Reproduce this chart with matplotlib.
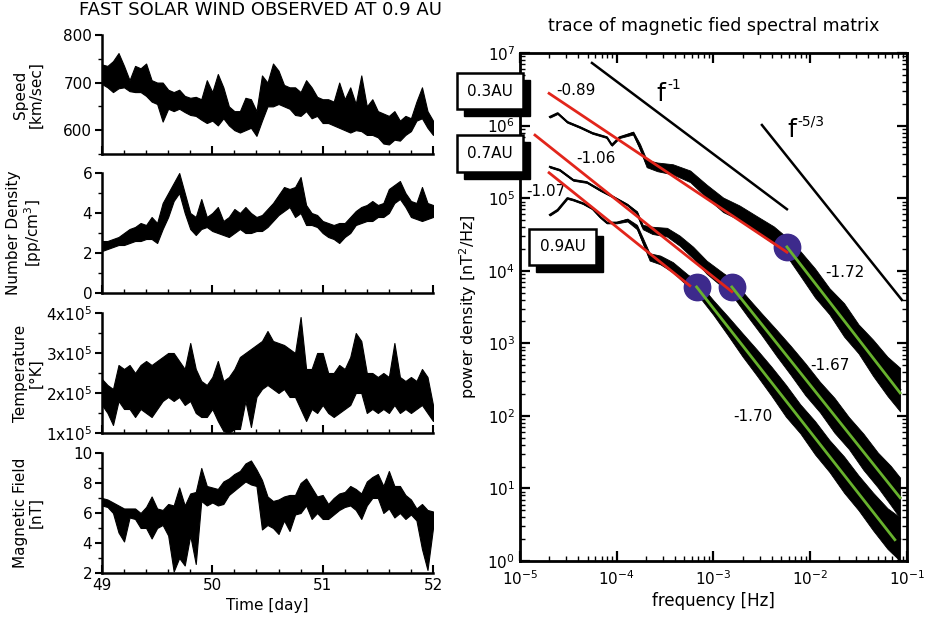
import numpy as np
import matplotlib
matplotlib.use('Agg')
import matplotlib.pyplot as plt
from matplotlib.ticker import MultipleLocator
from matplotlib.patches import Rectangle

plt.rcParams['font.family'] = 'DejaVu Sans'
plt.rcParams['mathtext.default'] = 'regular'
plt.rcParams['axes.unicode_minus'] = False

# ---- solar wind parameters, days 49-52 (low / high reading every 0.05 day)
time = np.linspace(49, 52, 61)

speed_lo = [697, 690, 680, 688, 690, 682, 680, 680, 672, 660,
            655, 618, 645, 640, 645, 638, 632, 630, 622, 615,
            620, 610, 625, 610, 600, 595, 600, 605, 588, 620,
            650, 650, 655, 650, 645, 632, 630, 640, 625, 630,
            615, 615, 610, 605, 600, 595, 600, 598, 590, 590,
            585, 572, 570, 580, 578, 590, 598, 620, 625, 605, 590]
speed_hi = [738, 735, 745, 762, 735, 705, 735, 730, 740, 705,
            700, 700, 685, 680, 685, 672, 668, 670, 665, 705,
            680, 718, 690, 650, 640, 640, 668, 665, 640, 715,
            700, 740, 725, 695, 690, 690, 680, 705, 690, 670,
            665, 665, 660, 700, 665, 690, 655, 715, 650, 665,
            640, 635, 630, 640, 620, 630, 625, 660, 690, 640, 620]

density_lo = [2.1, 2.2, 2.3, 2.4, 2.4, 2.5, 2.6, 2.6, 2.7, 2.7,
              2.5, 3.2, 3.8, 4.6, 5.0, 4.0, 3.2, 2.9, 3.2, 3.3,
              3.1, 3.0, 2.9, 2.8, 3.0, 3.2, 3.0, 3.0, 3.1, 3.1,
              3.3, 3.6, 3.9, 4.1, 4.3, 3.8, 4.0, 3.4, 3.4, 3.3,
              3.0, 2.8, 2.7, 2.5, 2.8, 3.0, 3.4, 3.5, 3.6, 3.6,
              3.8, 3.8, 4.0, 4.5, 4.7, 4.3, 3.8, 3.7, 3.6, 3.7, 3.8]
density_hi = [2.6, 2.6, 2.7, 2.8, 3.0, 3.2, 3.3, 3.5, 3.4, 3.8,
              3.5, 4.5, 5.0, 5.5, 6.0, 5.0, 4.0, 3.8, 4.7, 3.8,
              4.0, 4.3, 3.6, 3.8, 4.2, 4.0, 4.3, 4.0, 3.8, 3.9,
              4.2, 4.5, 4.9, 5.3, 5.2, 5.3, 5.8, 4.4, 4.0, 3.9,
              3.6, 3.5, 3.4, 3.5, 3.5, 3.8, 4.1, 4.3, 4.4, 4.6,
              4.4, 4.5, 5.2, 5.4, 5.6, 5.0, 4.6, 4.5, 5.3, 4.5, 4.4]

# temperature in units of 1e5 K
temp_lo = [1.7, 1.5, 1.2, 1.8, 1.6, 1.6, 1.4, 1.6, 1.5, 1.4,
           1.6, 1.8, 1.9, 1.8, 1.9, 1.7, 1.8, 1.5, 1.4, 1.4,
           1.6, 1.3, 1.05, 1.0, 1.1, 1.1, 1.8, 1.15, 1.9, 2.1,
           2.2, 2.1, 2.0, 2.1, 1.9, 1.9, 1.6, 1.3, 1.6, 1.5,
           1.7, 1.5, 1.4, 1.5, 1.6, 1.7, 2.0, 2.0, 1.5, 1.6,
           1.5, 1.6, 1.5, 1.7, 1.5, 1.6, 1.5, 1.6, 1.7, 1.5, 1.3]
temp_hi = [2.35, 2.2, 2.1, 2.7, 2.6, 2.7, 2.5, 2.7, 2.8, 2.7,
           2.8, 2.9, 3.0, 3.0, 2.8, 2.6, 3.25, 2.6, 2.3, 2.2,
           2.4, 2.8, 2.3, 2.4, 2.6, 2.9, 3.0, 3.1, 3.2, 3.3,
           3.55, 3.3, 3.25, 3.2, 3.1, 3.0, 3.9, 2.6, 2.6, 3.0,
           3.0, 2.5, 2.5, 2.7, 2.6, 2.9, 3.5, 3.3, 2.5, 2.5,
           2.4, 2.5, 2.4, 3.25, 2.4, 2.3, 2.4, 2.3, 2.6, 2.4, 1.7]

field_lo = [6.5, 6.4, 6.0, 4.7, 4.1, 5.7, 5.6, 5.0, 5.0, 4.3,
            5.0, 5.2, 4.5, 2.1, 3.0, 2.5, 4.5, 2.6, 6.8, 6.5,
            6.7, 6.5, 6.6, 7.2, 7.5, 7.8, 8.1, 7.9, 7.8, 4.9,
            5.2, 5.0, 4.6, 5.5, 4.8, 5.9, 6.0, 6.5, 5.6, 6.0,
            5.6, 5.6, 5.9, 6.2, 6.4, 6.5, 6.2, 5.6, 6.5, 7.0,
            7.0, 6.0, 6.3, 5.7, 6.0, 5.6, 5.9, 5.5, 3.6, 2.2, 5.0]
field_hi = [7.0, 6.9, 6.7, 6.5, 6.3, 6.3, 6.3, 6.0, 6.4, 7.1,
            6.3, 6.2, 6.6, 6.5, 7.7, 6.5, 7.3, 7.4, 9.0, 7.8,
            7.7, 7.6, 8.1, 8.3, 8.6, 8.8, 9.3, 9.5, 8.9, 8.2,
            7.1, 6.8, 6.9, 7.1, 7.2, 7.2, 8.0, 8.3, 7.7, 7.1,
            7.2, 6.6, 7.0, 7.3, 7.4, 7.8, 7.6, 7.3, 8.1, 8.4,
            8.6, 7.8, 8.8, 7.8, 7.8, 7.2, 6.9, 6.3, 6.6, 6.2, 6.1]

# ---- trace of magnetic field spectral matrix (power, and band half-width in decades)
freq_03 = [2.04e-5, 2.45e-5, 3.09e-5, 4.17e-5, 5.6e-5, 7.9e-5, 8.9e-5, 1.07e-4,
           1.48e-4, 1.74e-4, 2.04e-4, 2.63e-4, 3.8e-4, 5.75e-4, 8.5e-4, 1.26e-3,
           1.86e-3, 2.8e-3, 4.2e-3, 5.75e-3, 7.9e-3, 1.12e-2, 1.58e-2, 2.24e-2,
           3.16e-2, 4.47e-2, 6.3e-2, 8.5e-2]
power_03 = [1.32e6, 1.48e6, 1.12e6, 9.5e5, 7.9e5, 6.9e5, 5.4e5, 6.9e5,
            7.9e5, 5.1e5, 3.0e5, 2.7e5, 2.5e5, 2.0e5, 1.25e5, 8.1e4,
            6.3e4, 4.4e4, 3.1e4, 2.13e4, 1.26e4, 6.8e3, 3.8e3, 2.1e3,
            1.15e3, 6.3e2, 3.5e2, 2.3e2]
spread_03 = [0.01, 0.01, 0.01, 0.01, 0.01, 0.01, 0.01, 0.01,
             0.02, 0.04, 0.05, 0.06, 0.07, 0.08, 0.09, 0.10,
             0.10, 0.11, 0.12, 0.13, 0.17, 0.20, 0.18, 0.23,
             0.20, 0.25, 0.27, 0.30]

freq_07 = [2.04e-5, 2.57e-5, 3.55e-5, 4.9e-5, 6.76e-5, 9.1e-5, 1.29e-4, 1.62e-4,
           1.86e-4, 2.34e-4, 3.31e-4, 4.47e-4, 6.17e-4, 8.5e-4, 1.26e-3, 1.55e-3,
           2.24e-3, 3.16e-3, 4.47e-3, 6.3e-3, 8.9e-3, 1.26e-2, 1.78e-2, 2.51e-2,
           3.55e-2, 5.0e-2, 6.8e-2, 8.5e-2]
power_07 = [2.7e5, 2.45e5, 1.78e5, 1.66e5, 1.29e5, 1.05e5, 8.1e4, 6.3e4,
            4.0e4, 3.6e4, 3.4e4, 2.6e4, 1.78e4, 1.12e4, 7.4e3, 6.0e3,
            3.2e3, 1.82e3, 1.02e3, 5.8e2, 3.2e2, 1.82e2, 1.02e2, 58,
            32, 18, 11, 7.4]
spread_07 = [0.01, 0.01, 0.01, 0.01, 0.01, 0.01, 0.01, 0.02,
             0.03, 0.05, 0.06, 0.07, 0.08, 0.09, 0.10, 0.11,
             0.13, 0.15, 0.18, 0.20, 0.22, 0.21, 0.24, 0.22,
             0.25, 0.24, 0.27, 0.28]

freq_09 = [2.04e-5, 2.45e-5, 3.09e-5, 3.55e-5, 4.47e-5, 5.6e-5, 6.76e-5, 7.9e-5,
           1.0e-4, 1.29e-4, 1.62e-4, 1.86e-4, 2.19e-4, 2.82e-4, 3.8e-4, 5.4e-4,
           6.7e-4, 1.0e-3, 1.41e-3, 2.0e-3, 2.82e-3, 3.98e-3, 5.6e-3, 7.9e-3,
           1.12e-2, 1.58e-2, 2.24e-2, 3.16e-2, 4.47e-2, 6.3e-2, 8.5e-2]
power_09 = [5.9e4, 6.9e4, 1.0e5, 9.5e4, 8.5e4, 7.2e4, 5.5e4, 4.6e4,
            4.6e4, 5.0e4, 4.0e4, 2.6e4, 1.55e4, 1.41e4, 1.12e4, 7.4e3,
            6.0e3, 3.1e3, 1.74e3, 9.5e2, 5.4e2, 3.0e2, 1.62e2, 91,
            50, 28, 15.5, 8.7, 4.8, 2.8, 2.0]
spread_09 = [0.01, 0.01, 0.01, 0.01, 0.01, 0.01, 0.01, 0.01,
             0.01, 0.02, 0.03, 0.04, 0.05, 0.06, 0.07, 0.08,
             0.09, 0.10, 0.13, 0.16, 0.18, 0.20, 0.22, 0.20,
             0.23, 0.22, 0.25, 0.24, 0.26, 0.28, 0.30]

# spectral break (frequency, power) and fitted slopes below / above the break
break_freq = [5.75e-3, 1.55e-3, 6.7e-4]
break_power = [2.13e4, 5.98e3, 5.98e3]
low_start = [2.0e-5, 1.43e-5, 2.0e-5]
low_start_power = [2.78e6, 7.4e5, 2.24e5]
low_end = [5.75e-3, 1.55e-3, 5.7e-4]
low_slope = [-0.89, -1.06, -1.07]
high_end = [8.5e-2, 8.5e-2, 7.5e-2]
high_slope = [-1.72, -1.67, -1.70]
distances = ['0.3AU', '0.7AU', '0.9AU']

fig = plt.figure(figsize=(9.32, 6.3), dpi=100)

# ---- left column
panels = [
    ([0.1094, 0.7556, 0.3552, 0.1889], speed_lo, speed_hi, 1, (550, 800),
     [600, 700, 800], ['600', '700', '800'], 50, 'Speed\n[km/sec]'),
    ([0.1094, 0.5349, 0.3552, 0.1905], density_lo, density_hi, 1, (0, 6),
     [0, 2, 4, 6], ['0', '2', '4', '6'], 1, 'Number Density\n[pp/cm$^3$]'),
    ([0.1094, 0.3127, 0.3552, 0.1905], temp_lo, temp_hi, 1e5, (1e5, 4e5),
     [1e5, 2e5, 3e5, 4e5], ['1x10$^5$', '2x10$^5$', '3x10$^5$', '4x10$^5$'],
     0.5e5, 'Temperature\n[°K]'),
    ([0.1094, 0.0905, 0.3552, 0.1905], field_lo, field_hi, 1, (2, 10),
     [2, 4, 6, 8, 10], ['2', '4', '6', '8', '10'], 1, 'Magnetic Field\n[nT]'),
]

for i, (rect, lo, hi, scale, ylim, yt, ytl, yminor, ylab) in enumerate(panels):
    ax = fig.add_axes(rect)
    ax.fill_between(time, np.array(lo) * scale, np.array(hi) * scale,
                    color='black', lw=0.8)
    ax.set_xlim(49, 52)
    ax.set_ylim(*ylim)
    ax.set_yticks(yt)
    ax.set_yticklabels(ytl, fontsize=11)
    ax.yaxis.set_minor_locator(MultipleLocator(yminor))
    ax.set_xticks([49, 50, 51, 52])
    ax.xaxis.set_minor_locator(MultipleLocator(0.2))
    for side in ['top', 'right']:
        ax.spines[side].set_visible(False)
    for side in ['left', 'bottom']:
        ax.spines[side].set_linewidth(1.8)
    ax.tick_params(axis='x', which='major', direction='in', length=6, width=1.5)
    ax.tick_params(axis='x', which='minor', direction='in', length=3, width=1)
    ax.tick_params(axis='y', which='major', direction='out', length=5, width=1.5, pad=2)
    ax.tick_params(axis='y', which='minor', direction='out', length=3, width=1)
    ax.set_ylabel(ylab, fontsize=11, linespacing=1.1)
    ax.yaxis.set_label_coords(-0.175, 0.5)
    if i < 3:
        ax.set_xticklabels([])
    else:
        ax.set_xticklabels(['49', '50', '51', '52'], fontsize=11)
        ax.set_xlabel('Time [day]', fontsize=11, labelpad=4)

fig.text(0.279, 0.984, 'FAST SOLAR WIND OBSERVED AT 0.9 AU', ha='center',
         va='center', fontsize=13)

# ---- right: power spectra
ax = fig.add_axes([0.5579, 0.1095, 0.4152, 0.8063])
ax.set_xscale('log')
ax.set_yscale('log')
ax.set_xlim(1e-5, 1e-1)
ax.set_ylim(1, 1e7)

for f, p, s in [(freq_03, power_03, spread_03), (freq_07, power_07, spread_07),
                (freq_09, power_09, spread_09)]:
    f = np.array(f)
    p = np.array(p)
    s = np.array(s)
    ax.plot(f, p, color='black', lw=1.5, zorder=2)
    ax.fill_between(f, p * 10 ** (-s), p * 10 ** s, color='black', lw=0.6, zorder=2)

ax.plot(break_freq, break_power, 'o', ms=19, color='#3d2a8c', zorder=4)
for k in range(3):
    fl = np.array([low_start[k], low_end[k]])
    ax.plot(fl, low_start_power[k] * (fl / low_start[k]) ** low_slope[k],
            color='#e2251b', lw=2, zorder=5)
    fh = np.array([break_freq[k], high_end[k]])
    ax.plot(fh, break_power[k] * (fh / break_freq[k]) ** high_slope[k],
            color='#68b22e', lw=2, zorder=5)

# reference power laws
fr1 = np.array([5.55e-5, 5.75e-3])
ax.plot(fr1, 7.3e6 * (fr1 / 5.55e-5) ** -1.0, color='black', lw=1.8)
fr2 = np.array([3.17e-3, 8.87e-2])
ax.plot(fr2, 1.02e6 * (fr2 / 3.17e-3) ** (-5 / 3), color='black', lw=1.8)
for fx, py, sup in [(2.6e-4, 2.2e6, '-1'), (5.75e-3, 6.9e5, '-5/3')]:
    ax.text(fx, py, 'f', fontsize=18, ha='left', va='baseline')
    ax.annotate(sup, (fx, py), xytext=(7.5, 8.5), textcoords='offset points',
                fontsize=10, ha='left', va='baseline')

# slope annotations
ax.text(3.8e-5, 3.0e6, '%.2f' % low_slope[0], fontsize=11, ha='center', va='center')
ax.text(6.1e-5, 3.5e5, '%.2f' % low_slope[1], fontsize=11, ha='center', va='center')
ax.text(1.87e-5, 1.23e5, '%.2f' % low_slope[2], fontsize=11, ha='center', va='center')
ax.text(2.29e-2, 9.5e3, '%.2f' % high_slope[0], fontsize=11, ha='center', va='center')
ax.text(1.6e-2, 4.9e2, '%.2f' % high_slope[1], fontsize=11, ha='center', va='center')
ax.text(2.57e-3, 98, '%.2f' % high_slope[2], fontsize=11, ha='center', va='center')

for side in ax.spines.values():
    side.set_linewidth(2)
ax.tick_params(which='both', direction='in', top=True, right=True, labelsize=11)
ax.tick_params(which='major', length=7, width=1.6)
ax.tick_params(which='minor', length=3.5, width=1)
ax.tick_params(axis='x', pad=6)
ax.set_title('trace of magnetic fied spectral matrix', fontsize=12.5, pad=16)
ax.set_ylabel('power density [nT$^2$/Hz]', fontsize=11.5, labelpad=6)
ax.set_xlabel('frequency [Hz]', fontsize=12, labelpad=3)

# distance labels with drop shadow
W, H = 932.0, 630.0
boxes = [(457, 73, 66, 36), (457, 135, 66, 37), (529, 229, 67, 36)]
for (x0, y0, w, h), name in zip(boxes, distances):
    fig.add_artist(Rectangle(((x0 + 7) / W, 1 - (y0 + h + 7) / H), w / W, h / H,
                             transform=fig.transFigure, facecolor='black',
                             edgecolor='black', zorder=10))
    fig.add_artist(Rectangle((x0 / W, 1 - (y0 + h) / H), w / W, h / H,
                             transform=fig.transFigure, facecolor='white',
                             edgecolor='black', lw=1.8, zorder=11))
    fig.text((x0 + w / 2) / W, 1 - (y0 + h / 2) / H, name, ha='center',
             va='center', fontsize=11, zorder=12)

fig.savefig('out.png', dpi=100)
